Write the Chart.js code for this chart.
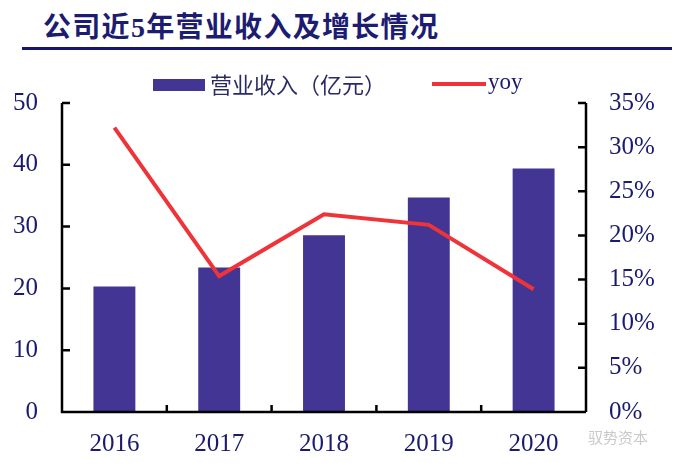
<!DOCTYPE html>
<html>
<head>
<meta charset="utf-8">
<script src="https://cdn.jsdelivr.net/npm/chart.js@4"></script>
<style>
  body { margin: 0; background: #fff; }
  #wrap { position: relative; width: 678px; height: 465px; }
  #title {
    position: absolute; left: 43px; top: 5px;
    font: bold 28px "Liberation Serif", "Noto Sans CJK SC", serif;
    color: #1c1c72; white-space: nowrap; letter-spacing: 1.3px;
  }
  #rule { position: absolute; left: 22px; top: 47px; width: 650px; height: 3px; background: #16166e; }
  #mark {
    position: absolute; left: 588px; top: 426px;
    font: 15px "Noto Sans CJK SC", sans-serif; color: #c9c9c9;
  }
  canvas { position: absolute; left: 0; top: 0; }
</style>
</head>
<body>
<div id="wrap">
  <div id="title">公司近5年营业收入及增长情况</div>
  <div id="rule"></div>
  <canvas id="chart" width="678" height="465"></canvas>
  <div id="mark">驭势资本</div>
</div>
<script>
document.addEventListener('DOMContentLoaded', () => {
    const years = ['2016', '2017', '2018', '2019', '2020'];
    const revenue = [20.3, 23.4, 28.6, 34.7, 39.4];
    const yoy = [0.322, 0.154, 0.224, 0.212, 0.139];
    const revenueLabel = '营业收入（亿元）';
    const yoyLabel = 'yoy';

    const navy = '#1a1a6e';
    const barColor = '#433593';
    const lineColor = '#ee3439';
    const tickFont = { family: '"Liberation Serif", "Times New Roman", serif', size: 25 };

    // axis lines, inward tick marks and the legend
    const frame = {
        id: 'frame',
        afterDraw(chart) {
            const ctx = chart.ctx;
            const a = chart.chartArea;
            const x = chart.scales.x, y = chart.scales.y, y1 = chart.scales.y1;
            ctx.save();
            ctx.strokeStyle = '#000';
            ctx.lineWidth = 2.5;
            ctx.beginPath();
            ctx.moveTo(a.left, a.top); ctx.lineTo(a.left, a.bottom); ctx.lineTo(a.right, a.bottom);
            ctx.moveTo(a.right, a.top); ctx.lineTo(a.right, a.bottom);
            y.ticks.forEach(t => {
                const py = y.getPixelForValue(t.value);
                ctx.moveTo(a.left, py); ctx.lineTo(a.left + 8, py);
            });
            y1.ticks.forEach(t => {
                const py = y1.getPixelForValue(t.value);
                ctx.moveTo(a.right, py); ctx.lineTo(a.right - 8, py);
            });
            for (let i = 1; i < years.length; i++) {
                const px = (x.getPixelForValue(i - 1) + x.getPixelForValue(i)) / 2;
                ctx.moveTo(px, a.bottom); ctx.lineTo(px, a.bottom - 7);
            }
            ctx.stroke();

            // legend
            ctx.fillStyle = barColor;
            ctx.fillRect(153, 79, 52, 12);
            ctx.fillStyle = '#2a2a66';
            ctx.textBaseline = 'middle';
            ctx.font = '22px "Noto Sans CJK SC", sans-serif';
            ctx.fillText(revenueLabel, 210, 85);
            ctx.strokeStyle = lineColor;
            ctx.lineWidth = 4;
            ctx.beginPath();
            ctx.moveTo(432, 84); ctx.lineTo(486, 84);
            ctx.stroke();
            ctx.fillStyle = navy;
            ctx.font = '23px "Liberation Serif", serif';
            ctx.fillText(yoyLabel, 488, 83);
            ctx.restore();
        }
    };

    new Chart(document.getElementById('chart'), {
        data: {
            labels: years,
            datasets: [
                {
                    type: 'line',
                    label: yoyLabel,
                    data: yoy,
                    yAxisID: 'y1',
                    borderColor: lineColor,
                    borderWidth: 4,
                    pointRadius: 0,
                    tension: 0,
                    order: 0
                },
                {
                    type: 'bar',
                    label: revenueLabel,
                    data: revenue,
                    yAxisID: 'y',
                    backgroundColor: barColor,
                    categoryPercentage: 1,
                    barPercentage: 0.4,
                    order: 1
                }
            ]
        },
        options: {
            responsive: false,
            animation: false,
            layout: { padding: { top: 103, left: 0, right: 0, bottom: 0 } },
            plugins: { legend: { display: false }, tooltip: { enabled: false } },
            scales: {
                x: {
                    grid: { display: false },
                    border: { display: false },
                    ticks: { font: tickFont, color: navy, padding: 9, maxRotation: 0 },
                    afterFit(s) { s.height = 53; }
                },
                y: {
                    position: 'left',
                    min: 0, max: 50,
                    grid: { display: false },
                    border: { display: false },
                    ticks: { stepSize: 10, font: tickFont, color: navy, padding: 16 },
                    afterFit(s) { s.width = 62; }
                },
                y1: {
                    position: 'right',
                    min: 0, max: 0.35,
                    grid: { display: false },
                    border: { display: false },
                    ticks: {
                        stepSize: 0.05, font: tickFont, color: navy, padding: 15,
                        callback: v => Math.round(v * 100) + '%'
                    },
                    afterFit(s) { s.width = 92; }
                }
            }
        },
        plugins: [frame]
    });
});
</script>
</body>
</html>
